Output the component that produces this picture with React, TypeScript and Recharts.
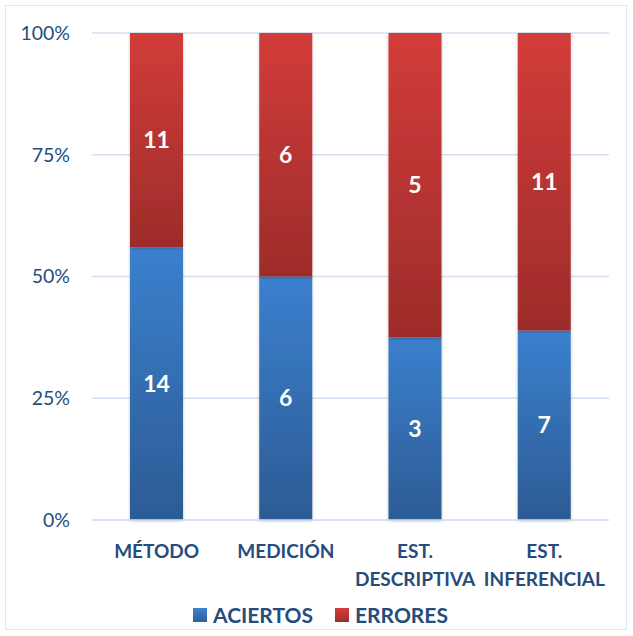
import { BarChart, Bar, XAxis, YAxis, CartesianGrid, LabelList } from "recharts";

const categories = ["MÉTODO", "MEDICIÓN", "EST. DESCRIPTIVA", "EST. INFERENCIAL"];
const aciertos = [14, 6, 3, 7];
const errores = [11, 6, 5, 11];
const yTicks = [0, 0.25, 0.5, 0.75, 1];

const data = categories.map((name, i) => ({
  name,
  aciertos: aciertos[i],
  errores: errores[i],
}));

const TEXT = "#264c7d";
const FONT = "Lato, 'Open Sans', sans-serif";

function CategoryTick({ x, y, payload }: any) {
  const value: string = payload.value;
  const lines = value.startsWith("EST. ") ? ["EST.", value.slice(5)] : [value];
  return (
    <text
      x={x}
      y={y}
      textAnchor="middle"
      fill={TEXT}
      fontFamily={FONT}
      fontWeight={700}
      fontSize={19}
    >
      {lines.map((line, i) => (
        <tspan key={line} x={x} dy={i === 0 ? 30 : 28}>
          {line}
        </tspan>
      ))}
    </text>
  );
}

function LegendRow() {
  const items = [
    { label: "ACIERTOS", bg: "linear-gradient(#3d82d0, #2e5e98)" },
    { label: "ERRORES", bg: "linear-gradient(#d23d3b, #a02d2b)" },
  ];
  return (
    <div
      style={{
        position: "absolute",
        top: 602,
        left: 0,
        width: 633,
        display: "flex",
        justifyContent: "center",
        gap: 22,
        fontFamily: FONT,
        fontWeight: 700,
        fontSize: 21,
        color: TEXT,
        paddingLeft: 8,
        boxSizing: "border-box",
      }}
    >
      {items.map((it) => (
        <div key={it.label} style={{ display: "flex", alignItems: "center", gap: 6 }}>
          <span style={{ display: "inline-block", width: 14, height: 14, background: it.bg }} />
          <span>{it.label}</span>
        </div>
      ))}
    </div>
  );
}

export default function App() {
  return (
    <div
      style={{
        position: "fixed",
        top: 0,
        left: 0,
        width: 633,
        height: 636,
        background: "#fff",
      }}
    >
      <div
        style={{
          position: "absolute",
          top: 5,
          left: 5,
          width: 622,
          height: 625,
          border: "1.5px solid #dde6f1",
          boxSizing: "border-box",
        }}
      />
      <BarChart
        width={633}
        height={636}
        data={data}
        stackOffset="expand"
        barSize={53}
        margin={{ top: 33, right: 24, bottom: 56, left: 0 }}
      >
        <defs>
          <linearGradient id="gradBlue" x1="0" y1="0" x2="0" y2="1">
            <stop offset="0%" stopColor="#3b80ce" />
            <stop offset="100%" stopColor="#2c5b94" />
          </linearGradient>
          <linearGradient id="gradRed" x1="0" y1="0" x2="0" y2="1">
            <stop offset="0%" stopColor="#d23c3a" />
            <stop offset="100%" stopColor="#9d2c2a" />
          </linearGradient>
          <filter id="shadow" x="-20%" y="-5%" width="140%" height="110%">
            <feDropShadow dx="0" dy="1" stdDeviation="1.5" floodColor="#000" floodOpacity="0.25" />
          </filter>
        </defs>
        <CartesianGrid vertical={false} stroke="#d3e0f0" strokeWidth={1.5} />
        <XAxis
          dataKey="name"
          axisLine={{ stroke: "#d3e0f0", strokeWidth: 1.5 }}
          tickLine={false}
          interval={0}
          tick={<CategoryTick />}
          height={60}
        />
        <YAxis
          width={92}
          ticks={yTicks}
          domain={[0, 1]}
          tickFormatter={(v: number) => `${Math.round(v * 100)}%`}
          axisLine={false}
          tickLine={false}
          tickSize={0}
          tickMargin={22}
          tick={{ fill: TEXT, fontSize: 19.5, fontFamily: FONT }}
        />
        <Bar
          dataKey="aciertos"
          stackId="a"
          fill="url(#gradBlue)"
          filter="url(#shadow)"
          isAnimationActive={false}
        >
          <LabelList
            dataKey="aciertos"
            position="center"
            fill="#fff"
            fontSize={23}
            fontWeight={700}
            fontFamily={FONT}
          />
        </Bar>
        <Bar
          dataKey="errores"
          stackId="a"
          fill="url(#gradRed)"
          filter="url(#shadow)"
          isAnimationActive={false}
        >
          <LabelList
            dataKey="errores"
            position="center"
            fill="#fff"
            fontSize={23}
            fontWeight={700}
            fontFamily={FONT}
          />
        </Bar>
      </BarChart>
      <LegendRow />
    </div>
  );
}
